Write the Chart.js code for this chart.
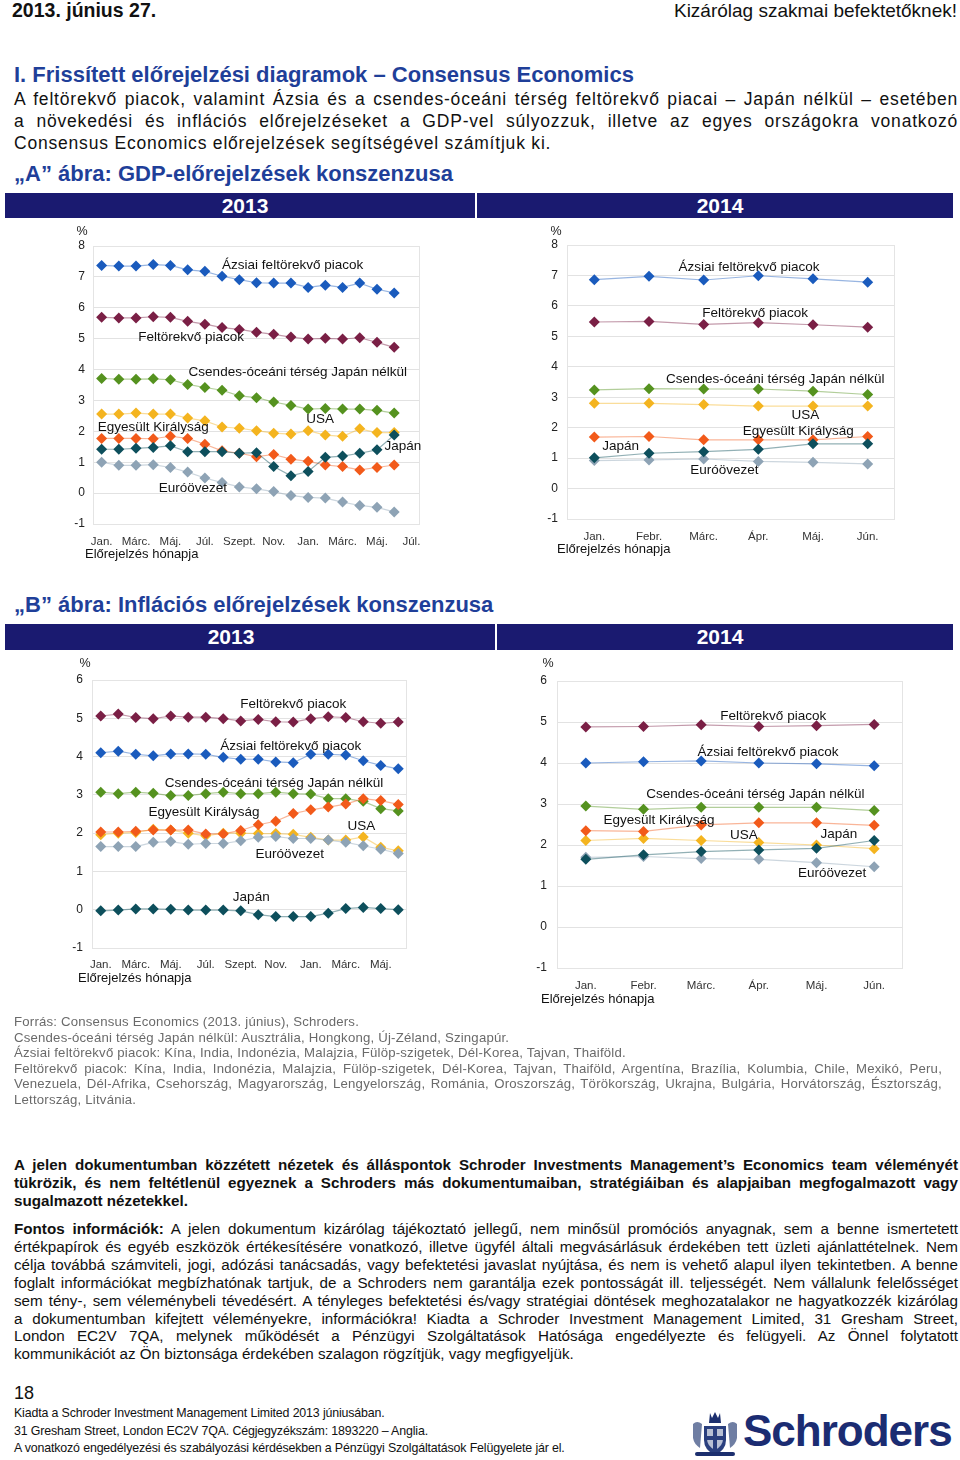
<!DOCTYPE html>
<html lang="hu">
<head>
<meta charset="UTF-8">
<title>Consensus Economics előrejelzések</title>
<script src="https://cdn.jsdelivr.net/npm/chart.js"></script>
<style>
  body { margin: 0; width: 960px; height: 1460px; position: relative; background: #fff;
         font-family: "Liberation Sans", Arial, sans-serif; color: #111; overflow: hidden; }
  .abs { position: absolute; white-space: nowrap; }
  .blue { color: #1f3f99; font-weight: bold; font-size: 22px; line-height: 24px; }
  .j { text-align: justify; text-align-last: justify; white-space: nowrap; }
  .band { position: absolute; background: #1a1a70; }
  .band span { position: absolute; color: #fff; font-weight: bold; font-size: 21px; line-height: 26px; transform: translateX(-50%); }
  canvas { position: absolute; }
  .foot { color: #6a6a6a; font-size: 13.2px; line-height: 15.6px; letter-spacing: 0.2px; }
  .small { font-size: 12.4px; line-height: 17.5px; color: #111; letter-spacing: -0.15px; }
</style>
</head>
<body>

<div class="abs" style="left:12px;top:0;font-size:19.5px;line-height:21px;font-weight:bold">2013. június 27.</div>
<div class="abs" style="right:3px;top:0;font-size:19px;line-height:21px">Kizárólag szakmai befektetőknek!</div>

<div class="abs blue" style="left:14px;top:63px">I. Frissített előrejelzési diagramok – Consensus Economics</div>
<div class="abs" style="left:14px;top:88px;width:944px;font-size:17.5px;line-height:22px;letter-spacing:0.8px">
  <div class="j">A feltörekvő piacok, valamint Ázsia és a csendes-óceáni térség feltörekvő piacai – Japán nélkül – esetében</div>
  <div class="j">a növekedési és inflációs előrejelzéseket a GDP-vel súlyozzuk, illetve az egyes országokra vonatkozó</div>
  <div>Consensus Economics előrejelzések segítségével számítjuk ki.</div>
</div>

<div class="abs blue" style="left:14px;top:162px">„A” ábra: GDP-előrejelzések konszenzusa</div>
<div class="band" style="left:5px;top:193px;width:470px;height:25px"><span style="left:240px;top:0">2013</span></div>
<div class="band" style="left:477px;top:193px;width:476px;height:25px"><span style="left:243px;top:0">2014</span></div>

<canvas id="gdp13" width="380" height="345" style="left:55px;top:225px"></canvas>
<canvas id="gdp14" width="380" height="345" style="left:530px;top:225px"></canvas>

<div class="abs blue" style="left:14px;top:593px">„B” ábra: Inflációs előrejelzések konszenzusa</div>
<div class="band" style="left:5px;top:624px;width:490px;height:26px"><span style="left:226px;top:0">2013</span></div>
<div class="band" style="left:497px;top:624px;width:456px;height:26px"><span style="left:223px;top:0">2014</span></div>

<canvas id="inf13" width="370" height="340" style="left:55px;top:655px"></canvas>
<canvas id="inf14" width="400" height="360" style="left:520px;top:655px"></canvas>

<div class="abs foot" style="left:14px;top:1014px;width:928px">
  <div>Forrás: Consensus Economics (2013. június), Schroders.</div>
  <div>Csendes-óceáni térség Japán nélkül: Ausztrália, Hongkong, Új-Zéland, Szingapúr.</div>
  <div>Ázsiai feltörekvő piacok: Kína, India, Indonézia, Malajzia, Fülöp-szigetek, Dél-Korea, Tajvan, Thaiföld.</div>
  <div class="j">Feltörekvő piacok: Kína, India, Indonézia, Malajzia, Fülöp-szigetek, Dél-Korea, Tajvan, Thaiföld, Argentína, Brazília, Kolumbia, Chile, Mexikó, Peru,</div>
  <div class="j">Venezuela, Dél-Afrika, Csehország, Magyarország, Lengyelország, Románia, Oroszország, Törökország, Ukrajna, Bulgária, Horvátország, Észtország,</div>
  <div>Lettország, Litvánia.</div>
</div>

<div class="abs" style="left:14px;top:1156px;width:944px;font-size:15.2px;line-height:17.8px;font-weight:bold">
  <div class="j">A jelen dokumentumban közzétett nézetek és álláspontok Schroder Investments Management’s Economics team véleményét</div>
  <div class="j">tükrözik, és nem feltétlenül egyeznek a Schroders más dokumentumaiban, stratégiáiban és alapjaiban megfogalmazott vagy</div>
  <div>sugalmazott nézetekkel.</div>
</div>

<div class="abs" style="left:14px;top:1220px;width:944px;font-size:15.2px;line-height:17.9px">
  <div class="j"><b>Fontos információk:</b> A jelen dokumentum kizárólag tájékoztató jellegű, nem minősül promóciós anyagnak, sem a benne ismertetett</div>
  <div class="j">értékpapírok és egyéb eszközök értékesítésére vonatkozó, illetve ügyfél általi megvásárlásuk érdekében tett üzleti ajánlattételnek. Nem</div>
  <div class="j">célja továbbá számviteli, jogi, adózási tanácsadás, vagy befektetési javaslat nyújtása, és nem is vehető alapul ilyen tekintetben. A benne</div>
  <div class="j">foglalt információkat megbízhatónak tartjuk, de a Schroders nem garantálja ezek pontosságát ill. teljességét. Nem vállalunk felelősséget</div>
  <div class="j">sem tény-, sem véleménybeli tévedésért. A tényleges befektetési és/vagy stratégiai döntések meghozatalakor ne hagyatkozzék kizárólag</div>
  <div class="j">a dokumentumban kifejtett véleményekre, információkra! Kiadta a Schroder Investment Management Limited, 31 Gresham Street,</div>
  <div class="j">London EC2V 7QA, melynek működését a Pénzügyi Szolgáltatások Hatósága engedélyezte és felügyeli. Az Önnel folytatott</div>
  <div>kommunikációt az Ön biztonsága érdekében szalagon rögzítjük, vagy megfigyeljük.</div>
</div>

<div class="abs" style="left:14px;top:1382px;font-size:18px;line-height:22px">18</div>
<div class="abs small" style="left:14px;top:1405px">
  <div>Kiadta a Schroder Investment Management Limited 2013 júniusában.</div>
  <div>31 Gresham Street, London EC2V 7QA. Cégjegyzékszám: 1893220 – Anglia.</div>
  <div>A vonatkozó engedélyezési és szabályozási kérdésekben a Pénzügyi Szolgáltatások Felügyelete jár el.</div>
</div>

<svg class="abs" style="left:690px;top:1410px" width="50" height="48" viewBox="0 0 50 48">
  <g fill="#1c2f6e">
    <path d="M14 16 h22 v14 q0 10 -11 15 q-11 -5 -11 -15z" fill="#2a3f7e"/>
    <path d="M17 19 h16 v10 q0 7 -8 11 q-8 -4 -8 -11z" fill="#b8c0d4"/>
    <rect x="23" y="19" width="4" height="21" fill="#2a3f7e"/>
    <rect x="17" y="26" width="16" height="4" fill="#2a3f7e"/>
    <path d="M20 3 l2 5 l3 -6 l3 6 l2 -5 l1 10 h-12z"/>
    <path d="M3 14 q4 -4 9 0 l-2 24 q-6 -4 -7 -10z" fill="#6f7ea3"/>
    <path d="M47 14 q-4 -4 -9 0 l2 24 q6 -4 7 -10z" fill="#6f7ea3"/>
    <rect x="5" y="42" width="40" height="4" rx="2"/>
  </g>
</svg>
<div class="abs" style="left:743px;top:1406px;font-size:44px;line-height:50px;font-weight:bold;color:#1b2c72;letter-spacing:-1px">Schroders</div>

<script>
Chart.defaults.font.family = '"Liberation Sans", Arial, sans-serif';
Chart.defaults.color = '#222';

// Month labels (forecast month)
const months2013 = ['Jan.', 'Febr.', 'Márc.', 'Ápr.', 'Máj.', 'Jún.', 'Júl.', 'Aug.', 'Szept.', 'Okt.', 'Nov.', 'Dec.',
                    'Jan.', 'Febr.', 'Márc.', 'Ápr.', 'Máj.', 'Jún.', 'Júl.'];
const months2014 = ['Jan.', 'Febr.', 'Márc.', 'Ápr.', 'Máj.', 'Jún.'];

// series names
const nJapan = 'Japán';
const nEuro = 'Euróövezet';
const nUK = 'Egyesült Királyság';
const nUSA = 'USA';
const nPacific = 'Csendes-óceáni térség Japán nélkül';
const nEM = 'Feltörekvő piacok';
const nAsia = 'Ázsiai feltörekvő piacok';

// A: GDP forecasts for 2013 (last month has no value yet)
const gdp13Asia    = [7.37, 7.35, 7.35, 7.40, 7.37, 7.23, 7.18, 7.02, 6.91, 6.81, 6.80, 6.80, 6.66, 6.73, 6.66, 6.80, 6.60, 6.48, null];
const gdp13EM      = [5.69, 5.67, 5.67, 5.71, 5.69, 5.56, 5.47, 5.36, 5.30, 5.21, 5.14, 5.05, 4.99, 5.01, 4.99, 5.03, 4.88, 4.72, null];
const gdp13Pacific = [3.71, 3.69, 3.69, 3.70, 3.67, 3.52, 3.42, 3.33, 3.15, 3.09, 2.95, 2.84, 2.72, 2.74, 2.72, 2.72, 2.68, 2.59, null];
const gdp13USA     = [2.56, 2.56, 2.59, 2.56, 2.56, 2.43, 2.34, 2.14, 2.10, 2.02, 1.94, 1.91, 2.02, 1.88, 1.84, 2.08, 1.96, 1.96, null];
const gdp13UK      = [1.77, 1.77, 1.77, 1.76, 1.84, 1.77, 1.58, 1.37, 1.29, 1.18, 1.25, 1.10, 1.03, 0.91, 0.86, 0.75, 0.83, 0.91, null];
const gdp13Japan   = [1.42, 1.42, 1.45, 1.48, 1.53, 1.34, 1.34, 1.34, 1.29, 1.31, 0.86, 0.56, 0.70, 1.16, 1.20, 1.29, 1.40, 1.88, null];
const gdp13Euro    = [1.00, 0.90, 0.90, 0.92, 0.83, 0.68, 0.49, 0.34, 0.20, 0.14, 0.05, -0.08, -0.14, -0.16, -0.29, -0.40, -0.46, -0.61, null];

// A: GDP forecasts for 2014
const gdp14Asia    = [6.86, 6.97, 6.85, 6.99, 6.89, 6.78];
const gdp14EM      = [5.47, 5.49, 5.39, 5.45, 5.38, 5.30];
const gdp14Pacific = [3.24, 3.28, 3.27, 3.27, 3.20, 3.09];
const gdp14USA     = [2.80, 2.80, 2.76, 2.71, 2.71, 2.71];
const gdp14UK      = [1.69, 1.71, 1.60, 1.60, 1.60, 1.71];
const gdp14Japan   = [1.01, 1.16, 1.21, 1.29, 1.47, 1.47];
const gdp14Euro    = [0.92, 0.94, 0.97, 0.89, 0.86, 0.81];

// B: inflation forecasts for 2013
const inf13EM      = [5.06, 5.11, 5.02, 4.99, 5.06, 5.03, 5.03, 4.99, 4.93, 4.97, 4.91, 4.90, 4.99, 5.04, 5.02, 4.91, 4.87, 4.90];
const inf13Asia    = [4.10, 4.14, 4.06, 4.02, 4.07, 4.07, 4.06, 3.98, 3.93, 3.93, 3.86, 3.84, 4.06, 4.06, 4.04, 3.89, 3.77, 3.68];
const inf13Pacific = [3.07, 3.03, 3.07, 3.04, 2.98, 2.98, 3.03, 3.07, 3.03, 3.03, 3.07, 3.03, 3.02, 2.90, 2.90, 2.83, 2.64, 2.58];
const inf13UK      = [2.03, 2.03, 2.05, 2.08, 2.08, 2.08, 1.98, 1.98, 2.07, 2.22, 2.31, 2.51, 2.61, 2.68, 2.76, 2.90, 2.85, 2.75];
const inf13USA     = [1.96, 2.00, 2.02, 2.10, 2.08, 2.00, 1.93, 2.00, 2.00, 1.99, 1.99, 1.97, 1.89, 1.82, 1.82, 1.90, 1.63, 1.54];
const inf13Euro    = [1.65, 1.65, 1.65, 1.76, 1.78, 1.71, 1.73, 1.73, 1.80, 1.89, 1.91, 1.86, 1.86, 1.82, 1.76, 1.67, 1.58, 1.47];
const inf13Japan   = [-0.03, -0.01, 0.02, 0.02, 0.01, -0.01, -0.01, -0.01, -0.03, -0.13, -0.18, -0.18, -0.18, -0.09, 0.03, 0.06, 0.03, 0.00];

// B: inflation forecasts for 2014
const inf14EM      = [4.88, 4.89, 4.93, 4.89, 4.91, 4.94];
const inf14Asia    = [4.00, 4.03, 4.05, 4.00, 3.98, 3.93];
const inf14Pacific = [2.95, 2.87, 2.92, 2.92, 2.92, 2.84];
const inf14UK      = [2.35, 2.33, 2.49, 2.54, 2.54, 2.48];
const inf14USA     = [2.11, 2.16, 2.11, 2.06, 2.00, 1.91];
const inf14Japan   = [1.65, 1.76, 1.84, 1.88, 1.92, 2.11];
const inf14Euro    = [1.70, 1.72, 1.67, 1.65, 1.57, 1.47];

const colors = {
    japan: '#0d4f5c', euro: '#8ea3b5', uk: '#f25a1a', usa: '#f4b41f',
    pacific: '#55921f', em: '#7a1f45', asia: '#1a5bbd'
};

function fade(hex, a) {
    const n = parseInt(hex.slice(1), 16);
    return `rgba(${n >> 16}, ${(n >> 8) & 255}, ${n & 255}, ${a})`;
}

// in-chart series names, placed at [category index, value]
const textPlugin = {
    id: 'texts',
    afterDraw(chart, args, o) {
        const c = chart.ctx, a = chart.chartArea;
        const x = chart.scales.x, y = chart.scales.y;
        c.save();
        c.strokeStyle = '#e4e4e4';
        c.lineWidth = 1;
        c.strokeRect(a.left + 0.5, a.top + 0.5, a.right - a.left - 1, a.bottom - a.top);
        c.fillStyle = '#111';
        c.font = '13.5px "Liberation Sans", Arial, sans-serif';
        c.textAlign = 'center';
        c.textBaseline = 'middle';
        o.notes.forEach(n => c.fillText(n[0], x.getPixelForValue(n[1]), y.getPixelForValue(n[2])));
        c.font = '12.5px "Liberation Sans", Arial, sans-serif';
        c.fillStyle = '#222';
        c.fillText('%', a.left + o.pct[0], a.top + o.pct[1]);
        c.textAlign = 'left';
        c.font = '13px "Liberation Sans", Arial, sans-serif';
        c.fillStyle = '#111';
        c.fillText('Előrejelzés hónapja', a.left + o.xt[0], a.bottom + o.xt[1]);
        c.restore();
    }
};

function makeChart(id, labels, series, yMin, yMax, every, notes, box) {
    new Chart(document.getElementById(id), {
        type: 'line',
        data: {
            labels: labels,
            datasets: series.map(s => ({
                label: s[0],
                data: s[1],
                borderColor: fade(s[2], 0.45),
                borderWidth: 1.2,
                backgroundColor: s[2],
                pointBackgroundColor: s[2],
                pointBorderColor: s[2],
                pointBorderWidth: 0,
                pointStyle: 'rectRot',
                pointRadius: 5.5,
                tension: 0
            }))
        },
        options: {
            responsive: false,
            animation: false,
            layout: { padding: { top: box.top, right: box.right, left: 0, bottom: 0 } },
            plugins: {
                legend: { display: false },
                tooltip: { enabled: false },
                texts: { notes: notes, pct: box.pct, xt: box.xt }
            },
            scales: {
                x: {
                    offset: true,
                    grid: { display: false, drawTicks: false },
                    border: { display: false },
                    afterFit: s => { s.height = box.xh; },
                    ticks: {
                        autoSkip: false, maxRotation: 0, padding: box.xpad,
                        color: '#333', font: { size: 11.5 },
                        callback: function (v, i) { return i % every === 0 ? this.getLabelForValue(v) : ''; }
                    }
                },
                y: {
                    min: yMin, max: yMax,
                    afterFit: s => { s.width = box.yw; },
                    grid: { color: '#e2e2e2', drawTicks: false },
                    border: { color: '#d6d6d6' },
                    ticks: { stepSize: 1, padding: box.ypad, color: '#222', font: { size: 12 } }
                }
            }
        },
        plugins: [textPlugin]
    });
}

const order = (jp, eu, uk, us, pa, em, as) => [
    [nJapan, jp, colors.japan], [nEuro, eu, colors.euro], [nUK, uk, colors.uk], [nUSA, us, colors.usa],
    [nPacific, pa, colors.pacific], [nEM, em, colors.em], [nAsia, as, colors.asia]
];

makeChart('gdp13', months2013,
    order(gdp13Japan, gdp13Euro, gdp13UK, gdp13USA, gdp13Pacific, gdp13EM, gdp13Asia), -1, 8, 2,
    [[nAsia, 11.1, 7.39], [nEM, 5.2, 5.03], [nPacific, 11.4, 3.9], [nUSA, 12.7, 2.39],
     [nUK, 3.0, 2.13], [nJapan, 17.5, 1.52], [nEuro, 5.3, 0.16]],
    { top: 21, right: 15, yw: 38, xh: 46, xpad: 11, ypad: 8, pct: [-11, -14], xt: [-8, 30] });

makeChart('gdp14', months2014,
    order(gdp14Japan, gdp14Euro, gdp14UK, gdp14USA, gdp14Pacific, gdp14EM, gdp14Asia), -1, 8, 1,
    [[nAsia, 2.83, 7.28], [nEM, 2.94, 5.77], [nPacific, 3.31, 3.6], [nUSA, 3.86, 2.42],
     [nUK, 3.73, 1.89], [nJapan, 0.48, 1.40], [nEuro, 2.38, 0.61]],
    { top: 20, right: 15, yw: 37, xh: 51, xpad: 11, ypad: 9, pct: [-11, -13], xt: [-10, 30] });

makeChart('inf13', months2013.slice(0, 18),
    order(inf13Japan, inf13Euro, inf13UK, inf13USA, inf13Pacific, inf13EM, inf13Asia), -1, 6, 2,
    [[nEM, 11.0, 5.37], [nAsia, 10.86, 4.27], [nPacific, 9.9, 3.30], [nUK, 5.9, 2.54],
     [nUSA, 14.9, 2.18], [nEuro, 10.8, 1.45], [nJapan, 8.6, 0.32]],
    { top: 25, right: 18, yw: 37, xh: 47, xpad: 10, ypad: 9, pct: [-7, -16], xt: [-14, 30] });

makeChart('inf14', months2014,
    order(inf14Japan, inf14Euro, inf14UK, inf14USA, inf14Pacific, inf14EM, inf14Asia), -1, 6, 1,
    [[nEM, 3.25, 5.14], [nAsia, 3.16, 4.26], [nPacific, 2.94, 3.23], [nUK, 1.27, 2.61],
     [nUSA, 2.74, 2.23], [nJapan, 4.39, 2.25], [nEuro, 4.27, 1.32]],
    { top: 26, right: 17, yw: 37, xh: 47, xpad: 11, ypad: 10, pct: [-9, -17], xt: [-16, 31] });
</script>
</body>
</html>
